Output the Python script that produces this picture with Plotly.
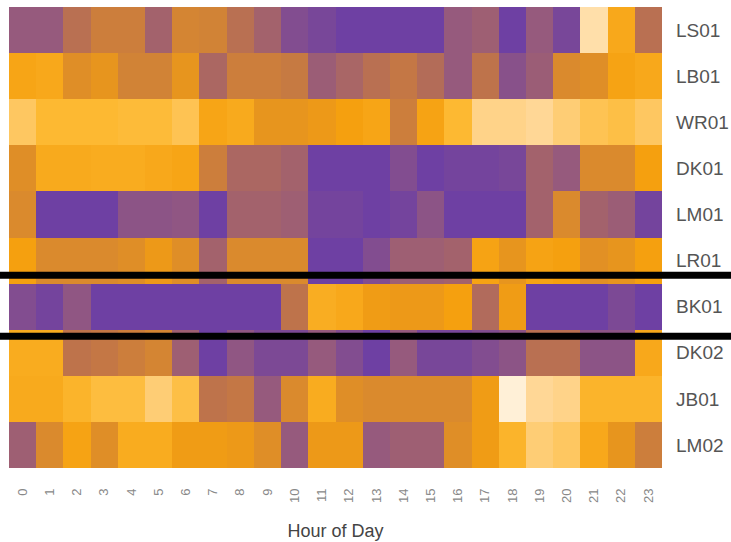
import plotly.graph_objects as go

# Hourly activity intensity per site (0 = low, 1 = high)
hours = [str(h) for h in range(24)]
sites = ["LS01", "LB01", "WR01", "DK01", "LM01", "LR01", "BK01", "DK02", "JB01", "LM02"]

LS01 = [0.25, 0.25, 0.38, 0.45, 0.45, 0.30, 0.48, 0.47, 0.38, 0.30, 0.15, 0.10,
        0.05, 0.05, 0.05, 0.05, 0.25, 0.28, 0.05, 0.25, 0.10, 0.93, 0.65, 0.38]
LB01 = [0.63, 0.65, 0.52, 0.55, 0.47, 0.47, 0.55, 0.33, 0.45, 0.45, 0.43, 0.27,
        0.32, 0.38, 0.42, 0.36, 0.25, 0.40, 0.18, 0.27, 0.50, 0.52, 0.62, 0.65]
WR01 = [0.82, 0.75, 0.75, 0.75, 0.76, 0.76, 0.80, 0.63, 0.66, 0.55, 0.55, 0.57,
        0.60, 0.63, 0.45, 0.62, 0.75, 0.88, 0.88, 0.90, 0.85, 0.80, 0.78, 0.82]
DK01 = [0.52, 0.66, 0.66, 0.67, 0.67, 0.65, 0.63, 0.45, 0.33, 0.33, 0.30, 0.05,
        0.05, 0.05, 0.15, 0.05, 0.08, 0.08, 0.10, 0.30, 0.25, 0.50, 0.50, 0.60]
LM01 = [0.50, 0.05, 0.05, 0.05, 0.20, 0.20, 0.22, 0.05, 0.30, 0.30, 0.28, 0.08,
        0.08, 0.05, 0.08, 0.20, 0.05, 0.05, 0.05, 0.30, 0.50, 0.30, 0.27, 0.08]
LR01 = [0.60, 0.50, 0.50, 0.50, 0.52, 0.57, 0.52, 0.30, 0.50, 0.50, 0.50, 0.05,
        0.05, 0.15, 0.28, 0.28, 0.30, 0.62, 0.55, 0.62, 0.60, 0.53, 0.55, 0.60]
BK01 = [0.15, 0.08, 0.22, 0.05, 0.05, 0.05, 0.05, 0.05, 0.05, 0.05, 0.40, 0.68,
        0.65, 0.58, 0.57, 0.57, 0.60, 0.35, 0.58, 0.05, 0.05, 0.05, 0.12, 0.05]
DK02 = [0.67, 0.67, 0.40, 0.42, 0.45, 0.48, 0.28, 0.05, 0.22, 0.12, 0.12, 0.25,
        0.15, 0.05, 0.25, 0.10, 0.10, 0.15, 0.20, 0.38, 0.38, 0.20, 0.20, 0.65]
JB01 = [0.66, 0.66, 0.72, 0.77, 0.77, 0.85, 0.78, 0.40, 0.42, 0.25, 0.50, 0.67,
        0.52, 0.50, 0.50, 0.50, 0.50, 0.58, 1.00, 0.90, 0.88, 0.72, 0.72, 0.72]
LM02 = [0.28, 0.50, 0.62, 0.52, 0.67, 0.67, 0.58, 0.58, 0.57, 0.52, 0.25, 0.57,
        0.57, 0.25, 0.28, 0.28, 0.52, 0.58, 0.72, 0.85, 0.82, 0.65, 0.55, 0.45]

z = [LS01, LB01, WR01, DK01, LM01, LR01, BK01, DK02, JB01, LM02]

# purple -> mauve -> brown -> orange -> cream
colorscale = [
    [0.00, "rgb(100,58,172)"],
    [0.25, "rgb(150,90,125)"],
    [0.40, "rgb(190,115,75)"],
    [0.60, "rgb(245,160,15)"],
    [0.75, "rgb(253,185,50)"],
    [0.90, "rgb(255,215,150)"],
    [1.00, "rgb(255,240,215)"],
]

fig = go.Figure(go.Heatmap(
    z=z, x=hours, y=sites,
    colorscale=colorscale, zmin=0, zmax=1,
    showscale=False, xgap=0, ygap=0,
))

# Thick separators around the highlighted site
highlight = sites.index("BK01")
for yv in (highlight - 0.68, highlight + 0.64):
    fig.add_shape(type="line", xref="paper", yref="y",
                  x0=-0.02, x1=1.11, y0=yv, y1=yv,
                  line=dict(color="black", width=7))

fig.update_layout(
    width=731, height=542,
    margin=dict(l=9, r=69, t=7, b=74),
    paper_bgcolor="white", plot_bgcolor="white",
    font=dict(family="Liberation Sans, Arial, sans-serif", color="#555"),
    xaxis=dict(
        tickangle=-90, tickfont=dict(size=13, color="#888"),
        ticks="", showgrid=False, zeroline=False, showline=False,
        ticklabelstandoff=17, automargin=False,
        title=dict(text="Hour of Day", font=dict(size=18, color="#444"), standoff=22),
    ),
    yaxis=dict(
        side="right", autorange="reversed",
        tickfont=dict(size=19, color="#555"),
        ticks="", showgrid=False, zeroline=False, showline=False,
        ticklabelstandoff=13, automargin=False,
    ),
)

fig.write_html("out.html")
